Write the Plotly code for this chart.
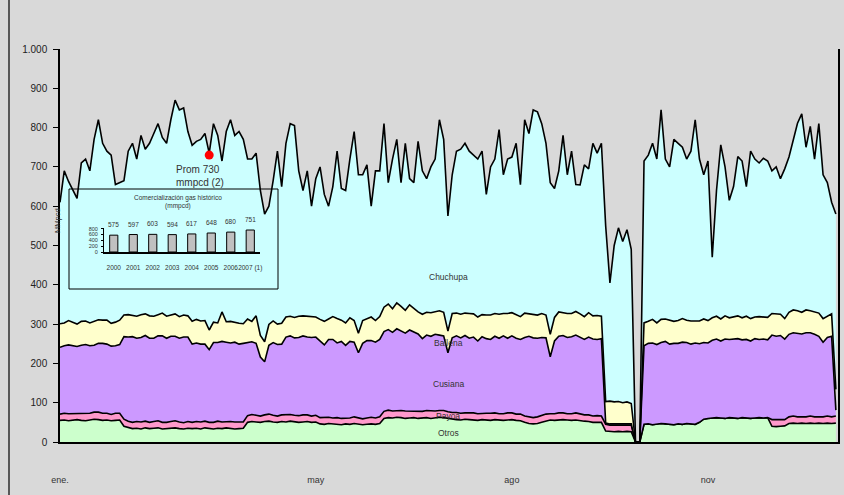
import pandas as pd
import plotly.graph_objects as go

# ---------------- data (2-day sampling, 2007) ----------------
dates = pd.date_range("2007-01-01", periods=183, freq="2D")

total = [
    610, 690, 663, 642, 620, 710, 720, 690, 770, 820, 760, 740, 730, 655, 660, 665, 740, 760, 720, 780,
    745, 760, 785, 810, 775, 760, 820, 870, 845, 850, 790,
    755, 765, 770, 785, 735, 810, 780, 715, 790, 820, 780, 790, 770, 720, 720, 735, 640, 580, 600, 665,
    740, 650, 760, 810, 805, 690, 640, 690, 600, 670,
    700, 630, 600, 650, 740, 645, 640, 720, 790, 680, 680, 705, 600, 690, 690, 810, 660, 720, 770, 660,
    760, 670, 660, 765, 690, 670, 700, 720, 820, 770, 575,
    680, 740, 745, 760, 740, 730, 720, 740, 630, 700, 720, 795, 680, 720, 725, 760, 655, 820, 785, 845,
    840, 810, 760, 660, 645, 690, 780, 680, 740, 655,
    654, 705, 695, 760, 735, 760, 550, 405, 500, 545, 510, 540, 490, 0, 0, 715, 730, 760, 720, 845,
    720, 700, 770, 760, 750, 720, 740, 820, 720, 680, 715,
    470, 640, 756, 700, 615, 650, 726, 715, 650, 740, 720, 710, 722, 715, 690, 700, 670, 695, 725, 765,
    811, 835, 750, 803, 720, 810, 680, 660, 610, 580,
]

otros = [
    55, 56, 54, 55, 57, 55, 54, 56, 58, 57, 55, 56, 54, 55, 56, 40, 36, 34, 35, 33, 36, 34, 35, 36, 33,
    34, 35, 36, 34, 33, 35,
    34, 35, 33, 36, 34, 33, 35, 34, 36, 35, 33, 34, 35, 50, 52, 51, 50, 52, 53, 51, 50, 52, 51, 53, 52,
    50, 51, 52, 50, 51,
    46, 45, 47, 46, 45, 44, 46, 45, 47, 46, 44, 45, 46, 45, 47, 60, 62, 61, 63, 62, 60, 61, 62, 60, 61,
    62, 60, 61, 63, 62, 60,
    58, 57, 56, 58, 57, 56, 55, 57, 56, 55, 57, 56, 55, 56, 57, 55, 54, 50, 47, 46, 47, 50, 54, 56, 55,
    56, 57, 56, 55, 56,
    54, 53, 52, 50, 50, 50, 28, 27, 26, 27, 26, 27, 26, 0, 0, 45, 46, 44, 45, 47, 46, 45, 44, 46, 45,
    47, 46, 45, 50, 58, 60,
    61, 62, 61, 60, 62, 61, 60, 62, 61, 60, 61, 62, 61, 62, 40, 39, 40, 41, 47, 48, 47, 48, 47, 48, 47,
    48, 47, 48, 47, 48,
]

payoa = [
    16, 17, 18, 17, 16, 17, 18, 17, 18, 19, 18, 17, 16, 18, 17, 18, 17, 16, 17, 18, 17, 16, 17, 18, 17,
    16, 17, 18, 17, 16, 17,
    16, 17, 18, 17, 16, 17, 18, 17, 16, 17, 18, 17, 16, 17, 18, 17, 16, 17, 18, 17, 16, 17, 18, 17, 16,
    17, 18, 17, 16, 17,
    16, 17, 16, 15, 17, 16, 15, 16, 17, 16, 15, 16, 17, 16, 17, 18, 19, 18, 17, 18, 19, 18, 17, 18, 17,
    18, 19, 18, 17, 18, 17,
    17, 18, 17, 16, 17, 18, 17, 16, 17, 18, 17, 16, 17, 18, 17, 16, 17, 16, 17, 16, 17, 18, 17, 16, 17,
    18, 17, 16, 17, 18,
    17, 16, 17, 16, 17, 16, 17, 16, 17, 16, 17, 16, 17, 0, 0, 0, 0, 0, 0, 0, 0, 0, 0, 0, 0,
    0, 0, 0, 0, 0, 0,
    0, 0, 0, 0, 0, 0, 0, 0, 0, 0, 0, 0, 0, 0, 17, 18, 17, 16, 17, 18, 17, 16, 17, 18, 17,
    16, 17, 18, 17, 18,
]

cusiana = [
    170, 172, 175, 173, 170, 174, 176, 172, 170, 175, 178, 176, 174, 172, 175, 210, 214, 218, 212, 215,
    218, 214, 212, 216, 220, 214, 217, 215, 213, 218, 215,
    199, 200, 198, 196, 185, 203, 200, 205, 202, 200, 203, 198, 200, 186, 185, 183, 150, 135, 175, 185,
    182, 180, 198, 200, 197, 199, 201, 198, 200, 199,
    195, 185, 198, 200, 190, 196, 185, 195, 190, 165, 192, 197, 195, 193, 197, 203, 205, 200, 208, 203,
    198, 206, 200, 197, 185, 192, 190, 195, 192, 190, 150,
    190, 195, 192, 197, 190, 193, 185, 195, 190, 188, 195, 192, 198, 190, 196, 193, 190, 200, 205, 203,
    200, 198, 194, 145, 185, 195, 197, 194, 196, 198,
    195, 192, 198, 196, 194, 197, 3, 3, 3, 3, 3, 3, 3, 0, 0, 200, 205, 208, 203, 206,
    210, 204, 207, 205, 209, 206, 203, 207, 200, 195, 192,
    198, 200, 196, 202, 199, 201, 203, 198, 200, 197, 202, 199, 201, 198, 215, 212, 214, 205, 210, 212,
    213, 211, 214, 212, 210, 205, 190, 200, 205, 15,
]

ballena = [
    60, 58, 62, 59, 57, 61, 60, 58, 62, 60, 59, 61, 58, 60, 62, 55, 57, 54, 56, 58, 55, 57, 56, 54, 58,
    56, 55, 57, 55, 56, 54,
    58, 60, 59, 60, 50, 52, 50, 75, 52, 55, 50, 53, 50, 60, 52, 70, 55, 51, 53, 55, 52, 53, 51, 50, 52,
    54, 51, 53, 52, 51,
    55, 60, 52, 58, 62, 54, 57, 60, 55, 50, 58, 56, 60, 55, 58, 62, 65, 60, 66, 62, 58, 64, 60, 56, 62,
    58, 60, 57, 62, 60, 55,
    62, 58, 60, 57, 63, 59, 61, 56, 60, 62, 58, 61, 57, 63, 59, 60, 58, 62, 57, 60, 59, 61, 58, 57, 60,
    62, 58, 61, 59, 60,
    60, 58, 62, 59, 61, 57, 55, 58, 56, 57, 54, 56, 52, 0, 0, 58, 56, 60, 55, 59, 57, 61, 56, 58, 60,
    57, 59, 56, 58, 60, 57,
    57, 58, 56, 59, 55, 57, 58, 56, 59, 57, 55, 58, 56, 57, 55, 57, 54, 52, 56, 58, 57, 55, 58, 56, 57,
    59, 60, 55, 57, 53,
]

chuchupa = [t - o - p - c - b for t, o, p, c, b in zip(total, otros, payoa, cusiana, ballena)]

series_names = ["Otros", "Payoa", "Cusiana", "Ballena", "Chuchupa"]
series_values = [otros, payoa, cusiana, ballena, chuchupa]
series_colors = ["#ccffcc", "#ff99cc", "#cc99ff", "#ffffcc", "#ccffff"]

y_tickvals = [0, 100, 200, 300, 400, 500, 600, 700, 800, 900, 1000]
y_ticktext = ["0", "100", "200", "300", "400", "500", "600", "700", "800", "900", "1.000"]
x_tickvals = ["2007-01-01", "2007-05-01", "2007-08-01", "2007-11-01"]
x_ticktext = ["ene.", "may", "ago", "nov"]

avg_date = "2007-03-12"
avg_value = 730

hist_years = ["2000", "2001", "2002", "2003", "2004", "2005", "2006", "2007 (1)"]
hist_values = [575, 597, 603, 594, 617, 648, 680, 751]
hist_pos = list(range(len(hist_years)))

# ---------------- layout helpers (pixel -> paper) ----------------
W, H = 844, 495
L, R, T, B = 60, 838, 49, 442


def px(x):
    return (x - L) / (R - L)


def py(y):
    return (B - y) / (B - T)


FONT = "Arial, Liberation Sans, sans-serif"
BG = "#d9d9d9"

fig = go.Figure()

for name, vals, col in zip(series_names, series_values, series_colors):
    fig.add_trace(go.Scatter(
        x=dates, y=vals, name=name, mode="lines", stackgroup="one",
        line=dict(color="black", width=1.6), fillcolor=col, hoverinfo="skip",
    ))

fig.add_trace(go.Scatter(
    x=[avg_date], y=[avg_value], mode="markers",
    marker=dict(color="#ff0000", size=9), hoverinfo="skip",
))

# inset bar chart
fig.add_trace(go.Bar(
    x=hist_pos, y=hist_values, xaxis="x2", yaxis="y2", width=0.42,
    marker=dict(color="#c0c0c0", line=dict(color="black", width=1)), hoverinfo="skip",
))

annotations = []
for text, x, y in [("Chuchupa", 448, 277), ("Ballena", 448, 343), ("Cusiana", 448, 384),
                   ("Payoa", 448, 416), ("Otros", 448, 433)]:
    annotations.append(dict(text=text, x=px(x), y=py(y), xref="paper", yref="paper",
                            xanchor="center", yanchor="middle",
                            showarrow=False, font=dict(family=FONT, size=8.5, color="#333333")))

annotations.append(dict(text=f"Prom {avg_value}<br>mmpcd (2)", x=px(174), y=py(162),
                        xref="paper", yref="paper", xanchor="left", yanchor="top", align="left",
                        showarrow=False, font=dict(family=FONT, size=10, color="#333333")))

annotations.append(dict(text="MMpcd", x=px(57), y=py(221), xref="paper", yref="paper",
                        xanchor="center", yanchor="middle", textangle=-90, showarrow=False,
                        font=dict(family=FONT, size=7.5, color="#333333")))

annotations.append(dict(text="Comercialización gas histórico<br>(mmpcd)", x=px(178), y=py(192),
                        xref="paper", yref="paper", xanchor="center", yanchor="top",
                        showarrow=False, font=dict(family=FONT, size=6.5, color="#333333")))

for pos, v in zip(hist_pos, hist_values):
    annotations.append(dict(text=str(v), x=pos, y=v, xref="x2", yref="y2", xanchor="center",
                            yanchor="bottom", yshift=5, showarrow=False,
                            font=dict(family=FONT, size=6.5, color="#333333")))

shapes = [
    dict(type="rect", xref="paper", yref="paper", x0=px(69), x1=px(278), y0=py(289), y1=py(189),
         line=dict(color="black", width=1), fillcolor="rgba(0,0,0,0)", layer="above"),
    dict(type="line", xref="paper", yref="paper", x0=px(9), x1=px(9), y0=py(500), y1=py(-5),
         line=dict(color="black", width=1.2)),
]

fig.update_layout(
    width=W, height=H,
    margin=dict(l=L, r=W - R, t=T, b=H - B, pad=0, autoexpand=False),
    paper_bgcolor=BG, plot_bgcolor="rgba(0,0,0,0)",
    showlegend=False,
    font=dict(family=FONT, color="#222222"),
    xaxis=dict(
        type="date", range=["2007-01-01", "2008-01-01"],
        tickvals=x_tickvals, ticktext=x_ticktext, ticks="",
        ticklabelstandoff=28, tickfont=dict(size=9, color="#333333"),
        showgrid=False, zeroline=False, showline=True, linecolor="black", linewidth=2,
    ),
    yaxis=dict(
        range=[0, 1000], tickvals=y_tickvals, ticktext=y_ticktext,
        ticks="outside", ticklen=5, tickcolor="black", ticklabelstandoff=4,
        tickfont=dict(size=10, color="#222222"),
        showgrid=False, zeroline=False, showline=True, linecolor="black", linewidth=1.5,
        mirror=True,
    ),
    xaxis2=dict(
        domain=[px(104), px(260)], anchor="y2", range=[-0.5, len(hist_years) - 0.5],
        tickvals=hist_pos, ticktext=hist_years, tickangle=0,
        showgrid=False, zeroline=False, showline=True, linecolor="black", linewidth=2,
        ticks="", ticklabelstandoff=8, tickfont=dict(size=6.5, color="#333333"),
    ),
    yaxis2=dict(
        domain=[py(252), py(228)], anchor="x2", range=[0, 820],
        tickvals=[0, 200, 400, 600, 800], ticks="outside", ticklen=2, tickcolor="black",
        showgrid=False, zeroline=False, showline=True, linecolor="black", linewidth=1,
        tickfont=dict(size=5.5, color="#333333"), ticklabelstandoff=2,
    ),
    annotations=annotations,
    shapes=shapes,
)

fig.write_html("out.html", config={"displayModeBar": False},
               post_script="document.body.style.margin='0px';"
                           "document.body.style.background='#d9d9d9';")
